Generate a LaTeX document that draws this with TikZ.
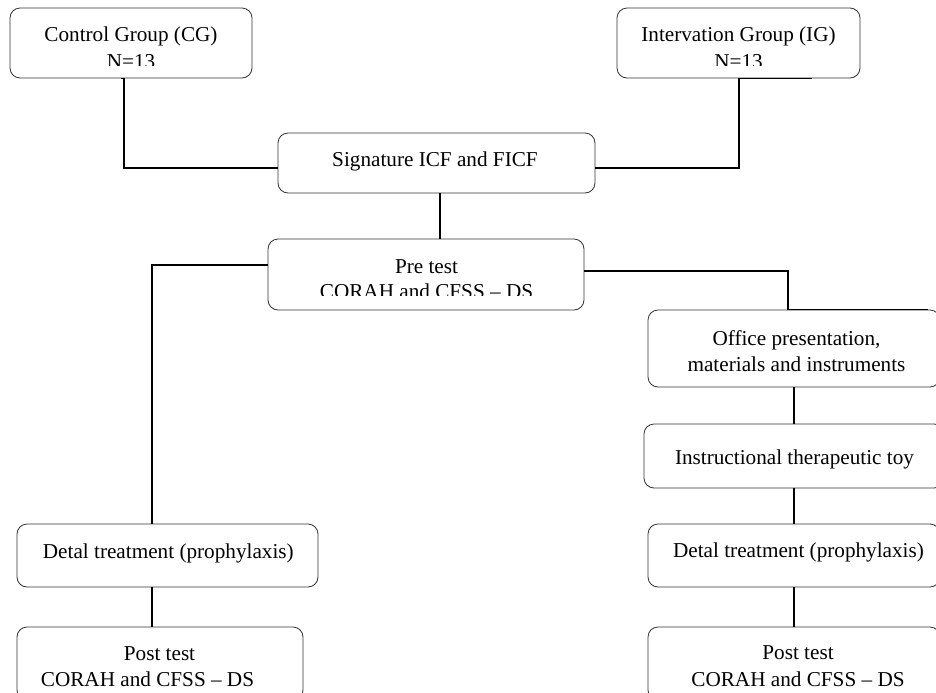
\documentclass[tikz,border=0pt]{standalone}
\usepackage{fontspec}
\setmainfont{Liberation Serif}
\usetikzlibrary{calc}
\begin{document}
\begin{tikzpicture}[x=0.75pt,y=-0.75pt,
  box/.style={draw=black!80,line width=0.6pt,rounded corners=7.5pt,inner sep=0pt},
  sz/.style 2 args={minimum width=#1*0.75pt,minimum height=#2*0.75pt},
  txt/.style={inner sep=0pt,anchor=base,font=\fontsize{15.9}{19}\selectfont},
  conn/.style={line width=1.3pt,black}]
\useasboundingbox (0,0) rectangle (936,693);
\clip (0,0) rectangle (936,693);
\fill[white] (0,0) rectangle (936,693);

% boxes
\node[box,sz={242}{70}] (cg) at (131,43) {};
\node[box,sz={243}{70}] (ig) at (738.5,43) {};
\node[box,sz={317}{60}] (sig) at (436.5,163) {};
\node[box,sz={316}{71}] (pre) at (426,274.5) {};
\node[box,sz={292}{77}] (off) at (794,348.5) {};
\node[box,sz={300}{64}] (ins) at (794,456) {};
\node[box,sz={292}{63}] (detR) at (794,555.5) {};
\node[box,sz={292}{73}] (postR) at (794,663.5) {};
\node[box,sz={301}{63}] (detL) at (167.5,555.5) {};
\node[box,sz={286}{73}] (postL) at (160,663.5) {};

% texts (clipped as in the reference)
\begin{scope}
\clip (10,8) rectangle (252,65);
\node[txt] (cgA) at (131,41.7) {Control Group (CG)};
\node[txt] (cgB) at (131,68) {N=13};
\end{scope}
\begin{scope}
\clip (617,8) rectangle (860,65);
\node[txt] (igA) at (738.5,41.7) {Intervation Group (IG)};
\node[txt] (igB) at (738.5,68) {N=13};
\end{scope}
\begin{scope}
\clip (268,239) rectangle (584,295.7);
\node[txt] (preA) at (426.5,273.3) {Pre test};
\node[txt] (preB) at (426.5,298.4) {CORAH and CFSS -- DS};
\end{scope}
\node[txt] (sigA) at (435,166.7) {Signature ICF and FICF};
\node[txt] (offA) at (796.5,345) {Office presentation,};
\node[txt] (offB) at (796.5,371.7) {materials and instruments};
\node[txt] (insA) at (794.5,464) {Instructional therapeutic toy};
\node[txt] (detRA) at (798.5,557) {Detal treatment (prophylaxis)};
\node[txt] (detLA) at (168.3,558) {Detal treatment (prophylaxis)};
\node[txt] (postLA) at (159.5,660) {Post test};
\node[txt] (postLB) at (147.5,686.7) {CORAH and CFSS -- DS};
\node[txt] (postRA) at (798,659) {Post test};
\node[txt] (postRB) at (798,686) {CORAH and CFSS -- DS};

% connectors
\draw[conn] ($(cg.south)+(-10,0)$) -- ($(cg.south)+(-7,0)$) |- ($(sig.west)+(0,5)$);
\draw[conn] ($(ig.south)+(73.5,0)$) -- ($(ig.south)+(0.5,0)$) |- ($(sig.east)+(0,5)$);
\coordinate (sp) at ($(sig.south)+(3.5,0)$);
\draw[conn] (sp) -- (sp |- pre.north);
\draw[conn] ($(pre.west)+(0,-9.5)$) -| ($(detL.north)+(-15.5,0)$);
\draw[conn] ($(pre.east)+(0,-3.5)$) -| ($(off.north)+(-6,0)$) -- ($(off.north)+(134,0)$);
\draw[conn] (off.south) -- (ins.north);
\draw[conn] (ins.south) -- (detR.north);
\draw[conn] (detR.south) -- (postR.north);
\coordinate (dl) at ($(detL.south)+(-15.5,0)$);
\draw[conn] (dl) -- (dl |- postL.north);
\end{tikzpicture}
\end{document}
